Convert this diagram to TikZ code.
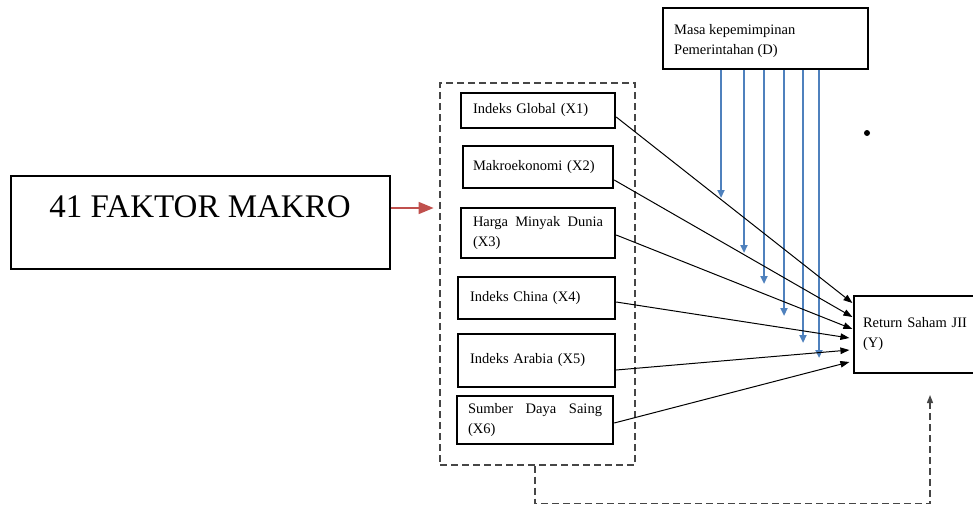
\documentclass[tikz,border=0pt]{standalone}
\usepackage{fontspec}
\setmainfont{Liberation Serif}
\usetikzlibrary{arrows.meta,calc}
\definecolor{bluel}{RGB}{79,129,189}
\definecolor{redl}{RGB}{192,80,77}
\definecolor{grayd}{RGB}{70,70,70}
\begin{document}
\begin{tikzpicture}[x=1pt,y=-1pt,
  small/.style={font=\fontsize{14.5}{20}\selectfont},
  xbox/.style={draw, line width=2.4pt, inner sep=0pt, small, align=left},
  thinbox/.style={draw, line width=1.2pt, inner sep=0pt},
  grpbox/.style={draw=grayd, line width=1.3pt, dash pattern=on 7pt off 4pt, inner sep=0pt},
  blk/.style={line width=1pt, -{Triangle[length=9pt,width=6.5pt]}},
  blu/.style={draw=bluel, line width=2.8pt, -{Triangle[length=8pt,width=7pt]}},
  redarr/.style={draw=redl, line width=1.5pt, -{Triangle[length=15pt,width=12pt]}},
  dconn/.style={draw=grayd, line width=1.2pt, dash pattern=on 7pt off 4pt, -{Triangle[length=8pt,width=6pt]}}
]
\useasboundingbox (0,0) rectangle (973,506);
\clip (0,0) rectangle (973,506);

% left big box
\node[thinbox, minimum width=379pt, minimum height=93pt] (fm) at (200.5,222.5) {};
\node[font=\fontsize{33}{36}\selectfont, inner sep=0pt] (fmt) at (200,207) {41 FAKTOR MAKRO};

% dashed group
\node[grpbox, minimum width=195pt, minimum height=382pt] (grp) at (537.5,274) {};

% inner boxes
\node[xbox, minimum width=154pt, minimum height=35pt, text width=130pt] (x1) at (538,110.5) {Indeks Global (X1)};
\node[xbox, minimum width=150pt, minimum height=42pt, text width=130pt] (x2) at (538,167) {Makroekonomi (X2)};
\node[xbox, minimum width=154pt, minimum height=50pt, text width=130pt] (x3) at (538,233) {\makebox[130pt]{Harga\hfill Minyak\hfill Dunia}\\(X3)};
\node[xbox, minimum width=157pt, minimum height=42pt, text width=133pt] (x4) at (536.5,298) {Indeks China (X4)};
\node[xbox, minimum width=157pt, minimum height=53pt, text width=133pt] (x5) at (536.5,360.5) {Indeks Arabia (X5)};
\node[xbox, minimum width=156pt, minimum height=48pt, text width=134pt] (x6) at (535,420) {\makebox[134pt]{Sumber\hfill Daya\hfill Saing}\\(X6)};

% D box
\node[draw, line width=2pt, inner sep=0pt, minimum width=205pt, minimum height=61pt] (D) at (765.5,38.5) {};
\node[small, anchor=west, align=left, inner sep=0pt] (Dt) at (674,41) {Masa kepemimpinan\\Pemerintahan (D)};

% Return box
\node[thinbox, minimum width=130pt, minimum height=77pt, small, text width=112pt, align=left] (ret) at (919,334.5) {Return Saham JII\\(Y)};

% stray dot
\node[circle, fill, inner sep=0pt, minimum size=6pt] (dot) at (867,133) {};

% red arrow
\draw[redarr] (fm.east |- 0,208) -- ++(43,0);

% blue arrows
\draw[blu] ($(D.south west)+(59,0)$) -- ++(0,128);
\draw[blu] ($(D.south west)+(82,0)$) -- ++(0,183);
\draw[blu] ($(D.south west)+(102,0)$) -- ++(0,214);
\draw[blu] ($(D.south west)+(122,0)$) -- ++(0,246);
\draw[blu] ($(D.south west)+(141,0)$) -- ++(0,273);
\draw[blu] ($(D.south west)+(157,0)$) -- ++(0,288);

% black arrows
\draw[blk] ($(x1.east)+(0,6.5)$) -- ($(ret.west)+(-1,-31.5)$);
\draw[blk] ($(x2.east)+(0,13)$) -- ($(ret.west)+(-1,-17.5)$);
\draw[blk] ($(x3.east)+(0,2)$) -- ($(ret.west)+(-1,-5.5)$);
\draw[blk] ($(x4.east)+(0,4)$) -- ($(ret.west)+(-4,3.5)$);
\draw[blk] ($(x5.east)+(0,9.5)$) -- ($(ret.west)+(-4,15.5)$);
\draw[blk] ($(x6.east)+(0,3)$) -- ($(ret.west)+(-4,27.5)$);

% dashed connector
\coordinate (ye) at (930,395);
\draw[dconn] ($(grp.south)+(-2.5,0)$) -- ++(0,38) -| (ye);
\end{tikzpicture}
\end{document}
